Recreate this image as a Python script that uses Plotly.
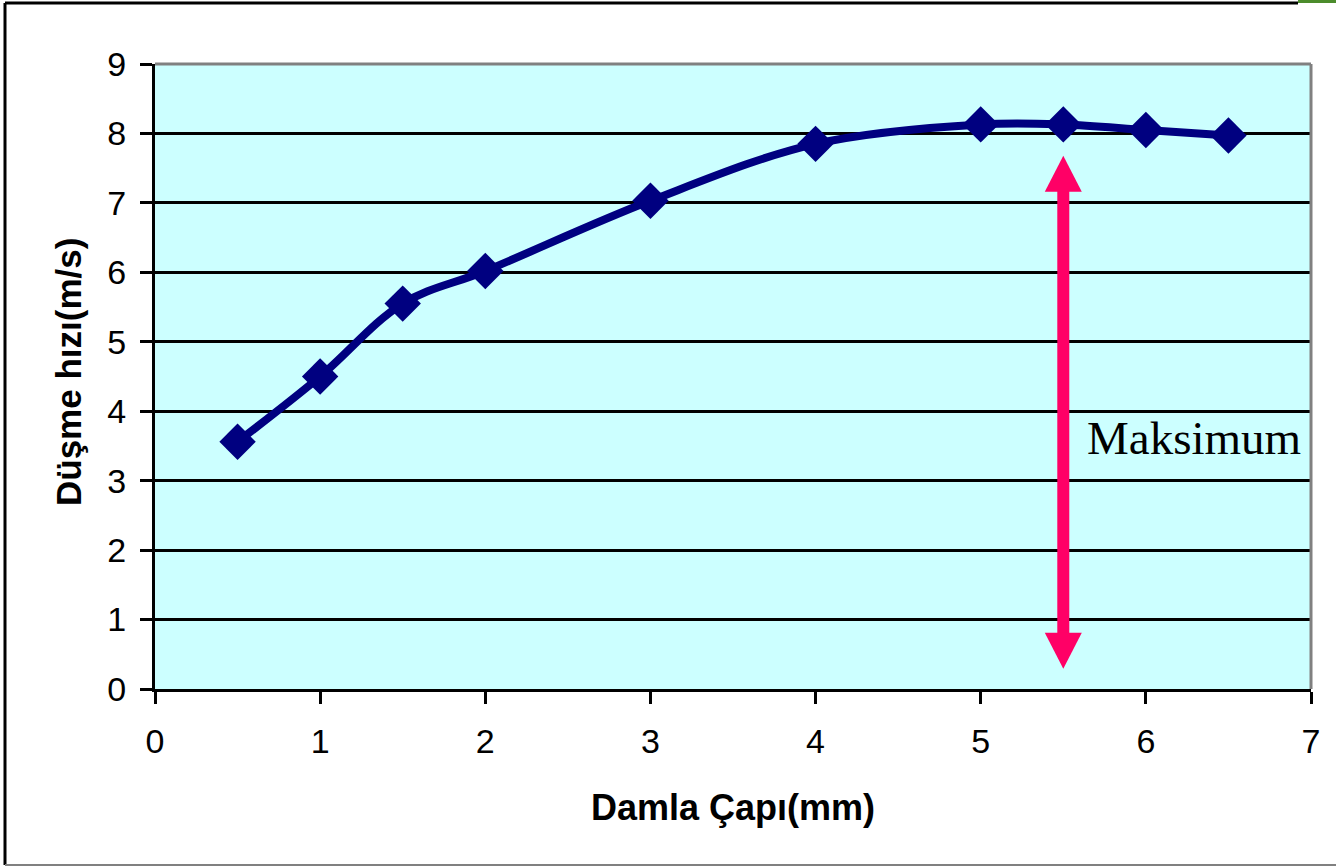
import plotly.graph_objects as go

# Data
diameter_mm = [0.5, 1, 1.5, 2, 3, 4, 5, 5.5, 6, 6.5]
speed_ms = [3.56, 4.50, 5.55, 6.02, 7.03, 7.85, 8.13, 8.13, 8.05, 7.97]

x_ticks = [0, 1, 2, 3, 4, 5, 6, 7]
y_ticks = [0, 1, 2, 3, 4, 5, 6, 7, 8, 9]

x_title = "Damla Çapı(mm)"
y_title = "Düşme hızı(m/s)"
note_text = "Maksimum"

# annotation arrow (data units)
arrow_x = 5.5
arrow_top = 7.68
arrow_bottom = 0.29

W, H = 1336, 867
L, T = 155, 64
R = W - 1311
B = H - 689
plot_w = W - L - R
plot_h = H - T - B
x_range = [0, 7]
y_range = [0, 9]
px_x = (x_range[1] - x_range[0]) / plot_w  # data per px
px_y = (y_range[1] - y_range[0]) / plot_h

pink = "#FF0066"
navy = "#000080"

fig = go.Figure()
fig.add_trace(go.Scatter(
    x=diameter_mm, y=speed_ms, mode="lines+markers",
    line=dict(color=navy, width=8, shape="spline", smoothing=1),
    marker=dict(symbol="diamond", size=28, color=navy),
    showlegend=False, hoverinfo="x+y",
))

head_half = 18.5 * px_x
head_len = 36 * px_y


def px2paper_x(px):  # px = page pixel
    return (px - L) / plot_w


def px2paper_y(py):
    return (H - B - py) / plot_h


shapes = [
    # shaft
    dict(type="line", xref="x", yref="y", x0=arrow_x, x1=arrow_x,
         y0=arrow_bottom + head_len * 0.9, y1=arrow_top - head_len * 0.9,
         line=dict(color=pink, width=12)),
    # top head
    dict(type="path", xref="x", yref="y",
         path=f"M {arrow_x-head_half} {arrow_top-head_len} L {arrow_x} {arrow_top} L {arrow_x+head_half} {arrow_top-head_len} Z",
         fillcolor=pink, line=dict(width=0)),
    # bottom head
    dict(type="path", xref="x", yref="y",
         path=f"M {arrow_x-head_half} {arrow_bottom+head_len} L {arrow_x} {arrow_bottom} L {arrow_x+head_half} {arrow_bottom+head_len} Z",
         fillcolor=pink, line=dict(width=0)),
    # grey top/right plot border
    dict(type="line", xref="paper", yref="paper", x0=0, x1=1.0, y0=1, y1=1,
         line=dict(color="#808080", width=3)),
    dict(type="line", xref="paper", yref="paper", x0=1, x1=1, y0=0, y1=1,
         line=dict(color="#808080", width=3)),
    # outer chart border
    dict(type="line", xref="paper", yref="paper", x0=px2paper_x(5), x1=px2paper_x(1298),
         y0=px2paper_y(3), y1=px2paper_y(3), line=dict(color="black", width=3)),
    dict(type="line", xref="paper", yref="paper", x0=px2paper_x(1298), x1=px2paper_x(1340),
         y0=px2paper_y(1.5), y1=px2paper_y(1.5), line=dict(color="#4C8C2C", width=3)),
    dict(type="line", xref="paper", yref="paper", x0=px2paper_x(5), x1=px2paper_x(5),
         y0=px2paper_y(3), y1=px2paper_y(865), line=dict(color="black", width=3)),
    dict(type="line", xref="paper", yref="paper", x0=px2paper_x(5), x1=px2paper_x(1340),
         y0=px2paper_y(865), y1=px2paper_y(865), line=dict(color="#808080", width=2)),
]

annotations = [
    dict(text=x_title, xref="paper", yref="paper", x=0.5, y=px2paper_y(808),
         xanchor="center", yanchor="middle", showarrow=False,
         font=dict(family="Liberation Sans", size=36, color="black", weight="bold")),
    dict(text=y_title, xref="paper", yref="paper", x=px2paper_x(68), y=px2paper_y(372),
         xanchor="center", yanchor="middle", showarrow=False, textangle=-90,
         font=dict(family="Liberation Sans", size=35, color="black", weight="bold")),
    dict(text=note_text, xref="x", yref="y", x=6.29, y=3.61,
         xanchor="center", yanchor="middle", showarrow=False,
         font=dict(family="Liberation Serif", size=47, color="black")),
]

fig.update_layout(
    width=W, height=H,
    margin=dict(l=L, r=R, t=T, b=B, autoexpand=False),
    paper_bgcolor="white", plot_bgcolor="#CCFFFF",
    shapes=shapes, annotations=annotations,
    font=dict(family="Liberation Sans", color="black"),
)
fig.update_xaxes(
    range=x_range, tickvals=x_ticks, showgrid=False, zeroline=False,
    showline=True, linecolor="black", linewidth=3,
    ticks="outside", ticklen=12, tickwidth=3, tickcolor="black",
    tickfont=dict(size=34, family="Liberation Sans", color="black"),
    ticklabelstandoff=8, fixedrange=True,
)
fig.update_yaxes(
    range=y_range, tickvals=y_ticks, showgrid=True, gridcolor="black", gridwidth=2.5,
    zeroline=False, showline=True, linecolor="black", linewidth=3,
    ticks="outside", ticklen=12, tickwidth=3, tickcolor="black",
    tickfont=dict(size=34, family="Liberation Sans", color="black"),
    ticklabelstandoff=7, fixedrange=True,
)

fig.write_html(
    "out.html",
    config={"displayModeBar": False},
    post_script="document.body.style.margin='0';document.body.style.overflow='hidden';",
)
